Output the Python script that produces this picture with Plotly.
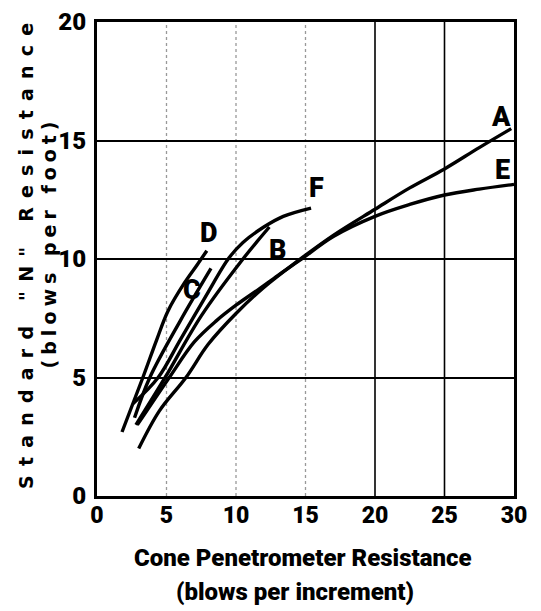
import plotly.graph_objects as go

# ---- data ----
a_x = [3.0, 4.5, 6.4, 8.0, 10.0, 12.0, 14.4, 17.0, 20.0, 22.5, 25.0, 27.5, 29.8]
a_y = [2.0, 3.6, 5.0, 6.4, 7.7, 8.8, 9.9, 11.0, 12.1, 13.0, 13.8, 14.7, 15.5]

b_x = [2.8, 4.9, 7.5, 10.5, 12.4]
b_y = [3.0, 5.0, 7.6, 10.0, 11.35]

c_x = [2.7, 3.8, 6.0, 8.2]
c_y = [3.3, 5.0, 7.4, 9.6]

d_x = [1.8, 3.3, 4.3, 5.1, 6.3, 7.2, 7.9]
d_y = [2.7, 5.0, 6.6, 7.8, 9.0, 9.75, 10.35]

e_x = [2.9, 5.2, 7.0, 8.6, 10.0, 11.7, 13.0, 14.6, 17.0, 20.0, 22.5, 25.0, 27.5, 30.0]
e_y = [3.0, 5.0, 6.5, 7.4, 8.05, 8.75, 9.3, 9.95, 10.95, 11.8, 12.3, 12.7, 12.95, 13.15]

f_x = [2.6, 4.4, 6.0, 7.8, 9.5, 10.5, 12.0, 13.4, 15.4]
f_y = [3.9, 5.0, 6.6, 8.4, 10.05, 10.7, 11.35, 11.8, 12.15]

curve_names = ["A", "B", "C", "D", "E", "F"]
curve_xs = [a_x, b_x, c_x, d_x, e_x, f_x]
curve_ys = [a_y, b_y, c_y, d_y, e_y, f_y]
label_x = [29.1, 13.0, 6.8, 8.0, 29.2, 15.8]
label_y = [16.0, 10.4, 8.7, 11.1, 13.75, 13.0]

x_ticks = [0, 5, 10, 15, 20, 25, 30]
y_ticks = [0, 5, 10, 15, 20]
dotted_grid_x = [5, 10, 15]
solid_grid_x = [20, 25]

x_title_1 = "Cone Penetrometer Resistance"
x_title_2 = "(blows per increment)"
y_title_1 = 'Standard "N" Resistance'
y_title_2 = "(blows per foot)"

NARROW = "Roboto, Liberation Sans, Arial, sans-serif"
WIDE = "DejaVu Sans, Liberation Sans, Arial, sans-serif"

fig = go.Figure()

for name, xs, ys in zip(curve_names, curve_xs, curve_ys):
    fig.add_trace(go.Scatter(
        x=xs, y=ys, mode="lines", name=name,
        line=dict(color="black", width=3.4, shape="spline", smoothing=1.0),
        showlegend=False, hoverinfo="skip",
    ))

for gx in dotted_grid_x:
    fig.add_vline(x=gx, line=dict(color="#999999", width=1.3, dash="dot"), layer="below")
for gx in solid_grid_x:
    fig.add_vline(x=gx, line=dict(color="black", width=1.6), layer="below")

for name, lx, ly in zip(curve_names, label_x, label_y):
    fig.add_annotation(x=lx, y=ly, text=name, showarrow=False,
                       font=dict(family=NARROW, size=27, color="black", weight=900))

# axis titles
fig.add_annotation(xref="paper", yref="paper", x=0.495, y=0, yshift=-62,
                   text=x_title_1, showarrow=False, yanchor="middle",
                   font=dict(family=NARROW, size=24, color="black", weight=900))
fig.add_annotation(xref="paper", yref="paper", x=0.475, y=0, yshift=-96,
                   text=x_title_2, showarrow=False, yanchor="middle",
                   font=dict(family=NARROW, size=24, color="black", weight=900))
fig.add_annotation(xref="paper", yref="paper", x=0, xshift=-71, y=0.515,
                   text="<span style='letter-spacing:9.2px'>" + y_title_1 + "</span>",
                   textangle=-90, showarrow=False, xanchor="center",
                   font=dict(family=WIDE, size=19, color="black", weight="bold"))
fig.add_annotation(xref="paper", yref="paper", x=0, xshift=-48, y=0.535,
                   text="<span style='letter-spacing:5px'>" + y_title_2 + "</span>",
                   textangle=-90, showarrow=False, xanchor="center",
                   font=dict(family=WIDE, size=19, color="black", weight="bold"))

# the page body adds an 8 px offset, so the figure is sized to fit inside the window
fig.update_layout(
    width=533, height=603, autosize=False,
    margin=dict(l=89, r=27, t=14, b=115),
    paper_bgcolor="white", plot_bgcolor="white",
    xaxis=dict(range=[0, 30], tickvals=x_ticks, showgrid=False, zeroline=False,
               showline=True, mirror=True, linecolor="black", linewidth=3,
               ticks="", ticklabelstandoff=-4, automargin=False,
               tickfont=dict(family=NARROW, size=23, color="black", weight=900)),
    yaxis=dict(range=[0, 20], tickvals=y_ticks, showgrid=True, gridcolor="black",
               gridwidth=2, zeroline=False, showline=True, mirror=True,
               linecolor="black", linewidth=3, ticks="", ticklabelstandoff=3,
               automargin=False,
               tickfont=dict(family=NARROW, size=24, color="black", weight=900)),
)

fig.write_html("out.html")
